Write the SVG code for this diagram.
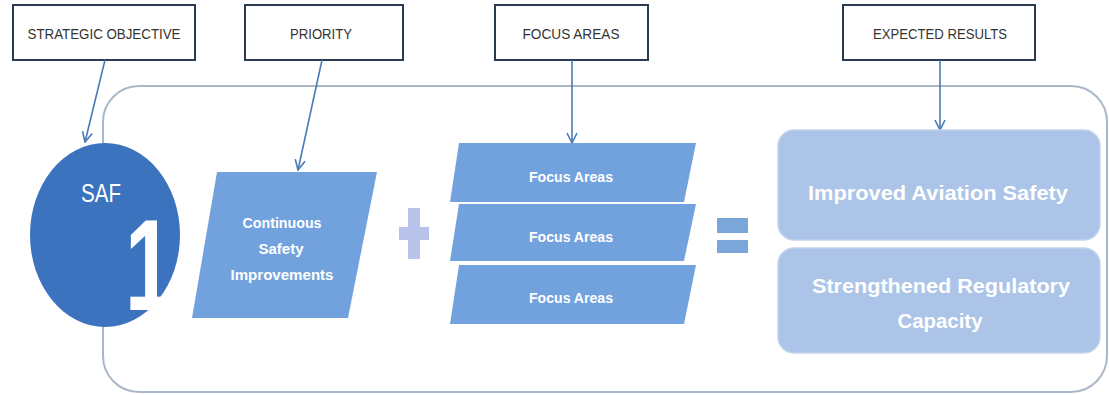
<svg xmlns="http://www.w3.org/2000/svg" width="1109" height="395" viewBox="0 0 1109 395">
<defs>
<marker id="arr" viewBox="0 0 12 12" refX="11" refY="6" markerWidth="12" markerHeight="12" markerUnits="userSpaceOnUse" orient="auto">
<path d="M1,1 L11,6 L1,11" fill="none" stroke="#4a7ab8" stroke-width="1.6"/>
</marker>
</defs>
<style>
.lbl{fill:#fff;stroke:#2b3b52;stroke-width:2}
.lt{font-family:"Liberation Sans",Arial,sans-serif;font-size:14px;fill:#333;text-anchor:middle}
.conn{stroke:#4a7ab8;stroke-width:1.6;fill:none}
.para{fill:#72a2de}
.wt{font-family:"Liberation Sans",Arial,sans-serif;font-weight:bold;fill:#fff;text-anchor:middle}
.wn{font-family:"Liberation Sans",Arial,sans-serif;font-weight:normal;fill:#fff;text-anchor:middle}
.res{fill:#abc4e7;stroke:#c3d4ec;stroke-width:1.5}
</style>
<rect width="1109" height="395" fill="#fff"/>
<rect id="container" x="103" y="86" width="1004" height="306" rx="36" ry="36" fill="none" stroke="#a9b7c9" stroke-width="2"/>

<g id="lbl-strategic"><rect class="lbl" x="13" y="5" width="182" height="55"/><text class="lt" x="104" y="39" textLength="153" lengthAdjust="spacingAndGlyphs">STRATEGIC OBJECTIVE</text></g>
<g id="lbl-priority"><rect class="lbl" x="245" y="5" width="158" height="55"/><text class="lt" x="321" y="39" textLength="62" lengthAdjust="spacingAndGlyphs">PRIORITY</text></g>
<g id="lbl-focus"><rect class="lbl" x="495" y="5" width="153" height="55"/><text class="lt" x="571" y="39" textLength="97" lengthAdjust="spacingAndGlyphs">FOCUS AREAS</text></g>
<g id="lbl-expected"><rect class="lbl" x="843" y="5" width="192" height="55"/><text class="lt" x="940" y="39" textLength="134" lengthAdjust="spacingAndGlyphs">EXPECTED RESULTS</text></g>

<g id="connectors">
<line class="conn" x1="105" y1="60" x2="85" y2="142" marker-end="url(#arr)"/>
<line class="conn" x1="322" y1="60" x2="298" y2="170" marker-end="url(#arr)"/>
<line class="conn" x1="572" y1="60" x2="572" y2="143" marker-end="url(#arr)"/>
<line class="conn" x1="940" y1="60" x2="940" y2="130" marker-end="url(#arr)"/>
</g>

<g id="saf">
<ellipse cx="105" cy="235" rx="75" ry="92" fill="#3b73bf"/>
<text class="wn" x="101" y="202" font-size="26" textLength="40" lengthAdjust="spacingAndGlyphs">SAF</text>
<text class="wt" x="149" y="310" font-size="130" textLength="48" lengthAdjust="spacingAndGlyphs">1</text>
</g>

<g id="priority">
<polygon class="para" points="217,172 377,172 348,318 192,318"/>
<text class="wt" x="282" y="228" font-size="14" textLength="79" lengthAdjust="spacingAndGlyphs">Continuous</text>
<text class="wt" x="281" y="254" font-size="14" textLength="45" lengthAdjust="spacingAndGlyphs">Safety</text>
<text class="wt" x="282" y="280" font-size="14" textLength="103" lengthAdjust="spacingAndGlyphs">Improvements</text>
</g>

<g id="plus" fill="#b9c3ea">
<rect x="408" y="208" width="12" height="51"/>
<rect x="399" y="227" width="30" height="13"/>
</g>

<g id="focus1"><polygon class="para" points="459,143 696,143 684,202 450,202"/><text class="wt" x="571" y="182" font-size="14" textLength="84" lengthAdjust="spacingAndGlyphs">Focus Areas</text></g>
<g id="focus2"><polygon class="para" points="459,204 696,204 684,261 450,261"/><text class="wt" x="571" y="242" font-size="14" textLength="84" lengthAdjust="spacingAndGlyphs">Focus Areas</text></g>
<g id="focus3"><polygon class="para" points="459,265 696,265 684,324 450,324"/><text class="wt" x="571" y="303" font-size="14" textLength="84" lengthAdjust="spacingAndGlyphs">Focus Areas</text></g>

<g id="equals" fill="#7ba6da">
<rect x="717" y="218" width="31" height="15"/>
<rect x="717" y="240" width="31" height="13"/>
</g>

<g id="result1"><rect class="res" x="778" y="130" width="322" height="110" rx="16"/><text class="wt" x="938" y="200" font-size="20" textLength="260" lengthAdjust="spacingAndGlyphs">Improved Aviation Safety</text></g>
<g id="result2"><rect class="res" x="778" y="248" width="322" height="105" rx="16"/><text class="wt" x="941" y="293" font-size="20" textLength="258" lengthAdjust="spacingAndGlyphs">Strengthened Regulatory</text><text class="wt" x="940" y="328" font-size="20" textLength="85" lengthAdjust="spacingAndGlyphs">Capacity</text></g>
</svg>
